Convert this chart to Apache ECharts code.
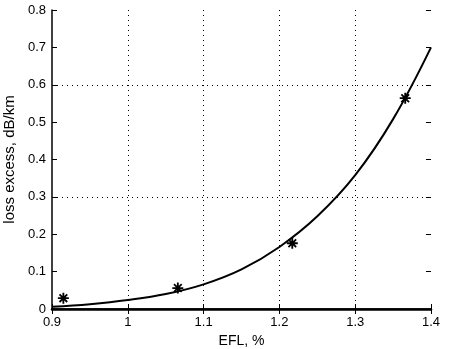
<!DOCTYPE html>
<html>
<head>
<meta charset="utf-8">
<script src="https://cdn.jsdelivr.net/npm/echarts@6/dist/echarts.min.js"></script>
<style>
  html, body { margin: 0; padding: 0; background: #fff; }
  #chart { width: 449px; height: 349px; }
</style>
</head>
<body>
<div id="chart"></div>
<script>
// fitted curve
var curveX = [0.9, 0.95, 1.0, 1.05, 1.1, 1.15, 1.2, 1.25, 1.3, 1.35, 1.4];
var curveY = [0.006, 0.013, 0.024, 0.04, 0.066, 0.106, 0.166, 0.248, 0.358, 0.508, 0.7];
// measured points (stars)
var measX = [0.915, 1.066, 1.217, 1.366];
var measY = [0.029, 0.056, 0.176, 0.564];
// dotted horizontal grid lines that survive in the scan
var gridY = [0.3, 0.6];

var xMin = 0.9, xMax = 1.4, yMin = 0, yMax = 0.8;

var star = "path://M-1,-6L1,-6L1,6L-1,6Z" +
  "M-6,-1L6,-1L6,1L-6,1Z" +
  "M-4.9,-3.5L-3.5,-4.9L4.9,3.5L3.5,4.9Z" +
  "M3.5,-4.9L4.9,-3.5L-3.5,4.9L-4.9,3.5Z";

var font = "Liberation Sans, Arial, Helvetica, sans-serif";
var chart = echarts.init(document.getElementById("chart"));

chart.setOption({
  backgroundColor: "#fff",
  animation: false,
  grid: { left: 52, right: 18, top: 10, bottom: 40, outerBoundsMode: "none" },
  xAxis: [
    {
      type: "value",
      min: xMin,
      max: xMax,
      interval: 0.1,
      name: "EFL, %",
      nameLocation: "middle",
      nameGap: 25,
      nameTextStyle: { color: "#000", fontSize: 14, fontFamily: font },
      axisLine: { lineStyle: { color: "#000", width: 1.5 } },
      axisTick: { inside: true, length: 5, lineStyle: { color: "#000" } },
      axisLabel: { color: "#000", fontSize: 13, fontFamily: font, margin: 7 },
      splitLine: {
        show: true,
        showMinLine: false,
        showMaxLine: false,
        lineStyle: { color: "#000", type: [1, 4], width: 1 }
      }
    },
    {
      type: "value",
      position: "top",
      min: xMin,
      max: xMax,
      interval: 0.1,
      axisLine: { lineStyle: { color: "#000", width: 2.5 } },
      axisTick: { inside: true, length: 5, lineStyle: { color: "#000" } },
      axisLabel: { show: false },
      splitLine: { show: false }
    }
  ],
  yAxis: [
    {
      type: "value",
      min: yMin,
      max: yMax,
      interval: 0.1,
      name: "loss excess, dB/km",
      nameLocation: "middle",
      nameGap: 28,
      nameTextStyle: { color: "#000", fontSize: 15, fontFamily: font },
      axisLine: { show: true, lineStyle: { color: "#000", width: 1.5 } },
      axisTick: { show: true, inside: true, length: 5, lineStyle: { color: "#000" } },
      axisLabel: { color: "#000", fontSize: 13, fontFamily: font, margin: 6 },
      splitLine: { show: false }
    },
    {
      type: "value",
      position: "right",
      min: yMin,
      max: yMax,
      interval: 0.1,
      axisLine: { show: false },
      axisTick: { show: true, inside: true, length: 5, lineStyle: { color: "#000" } },
      axisLabel: { show: false },
      splitLine: { show: false }
    }
  ],
  series: [
    {
      type: "line",
      smooth: 0.4,
      symbol: "none",
      data: curveX.map(function (x, i) { return [x, curveY[i]]; }),
      lineStyle: { color: "#000", width: 2 },
      markLine: {
        silent: true,
        symbol: "none",
        label: { show: false },
        lineStyle: { color: "#000", type: [1, 4], width: 1 },
        data: gridY.map(function (v) { return { yAxis: v }; })
      }
    },
    {
      type: "scatter",
      symbol: star,
      symbolSize: 11,
      data: measX.map(function (x, i) { return [x, measY[i]]; }),
      itemStyle: { color: "#000", opacity: 1 }
    }
  ]
});
</script>
</body>
</html>
